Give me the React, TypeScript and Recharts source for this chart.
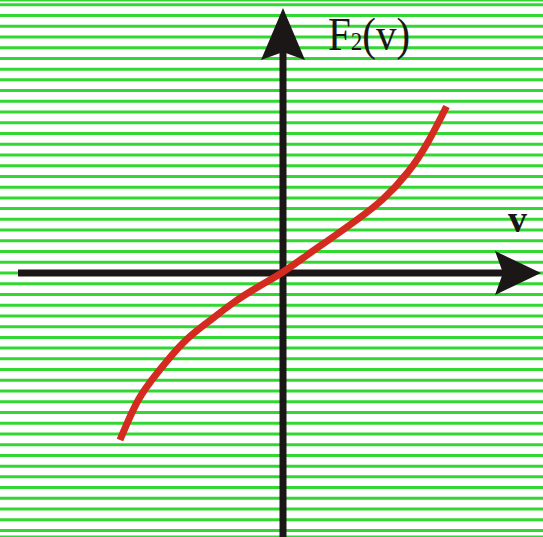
import {
  CartesianGrid,
  Line,
  LineChart,
  ReferenceLine,
  XAxis,
  YAxis,
} from "recharts"

// F2(v) curve, in units of 50px from the origin
const vValues = [
  -3.26, -2.9, -2.5, -2.0, -1.5, -1.0, -0.5, 0, 0.5, 1.0, 1.5, 2.0, 2.5, 2.9,
  3.27,
]
const fValues = [
  -3.34, -2.55, -1.98, -1.4, -0.98, -0.6, -0.28, 0.02, 0.37, 0.72, 1.08, 1.48,
  2.02, 2.62, 3.33,
]

// ruled background rows, one every gridStep
const gridStep = 0.2146
const gridRows: number[] = []
for (let i = -24; i <= 25; i++) gridRows.push(i * gridStep)

const xDomain = [-5.66, 5.2]
const yDomain = [-5.28, 5.46]

const data = vValues.map((v, i) => ({ v, f: fValues[i] }))

const INK = "#1c1717"

type ArrowProps = {
  x1?: number
  y1?: number
  x2?: number
  y2?: number
  head: number
  half: number
}

function ArrowAxis({ x1 = 0, y1 = 0, x2 = 0, y2 = 0, head, half }: ArrowProps) {
  const len = Math.hypot(x2 - x1, y2 - y1) || 1
  const ux = (x2 - x1) / len
  const uy = (y2 - y1) / len
  const bx = x2 - ux * head
  const by = y2 - uy * head
  const nx = x2 - ux * (head - 8)
  const ny = y2 - uy * (head - 8)
  const pts = [
    [x2, y2],
    [bx - uy * half, by + ux * half],
    [nx, ny],
    [bx + uy * half, by - ux * half],
  ]
    .map(p => p.join(","))
    .join(" ")
  return (
    <g>
      <line x1={x1} y1={y1} x2={nx} y2={ny} stroke={INK} strokeWidth={7} />
      <polygon points={pts} fill={INK} />
    </g>
  )
}

export default function App() {
  return (
    <div style={{ position: "absolute", left: 0, top: 0, background: "#fff" }}>
      <LineChart
        width={543}
        height={537}
        data={data}
        margin={{ top: 0, right: 0, bottom: 0, left: 0 }}
      >
        <CartesianGrid
          vertical={false}
          stroke="#26d626"
          strokeWidth={3}
          strokeOpacity={0.95}
        />
        <XAxis
          dataKey="v"
          type="number"
          domain={xDomain}
          allowDataOverflow
          hide
        />
        <YAxis
          type="number"
          domain={yDomain}
          ticks={gridRows}
          interval={0}
          allowDataOverflow
          hide
        />

        <ReferenceLine
          ifOverflow="visible"
          segment={[
            { x: -5.3, y: 0 },
            { x: 5.16, y: 0 },
          ]}
          shape={(p: any) => <ArrowAxis {...p} head={46} half={22} />}
          label={{
            value: "v",
            content: () => (
              <text
                x={508}
                y={232}
                fontFamily="Liberation Serif"
                fontWeight="bold"
                fontSize={38}
                fill={INK}
              >
                v
              </text>
            ),
          }}
        />
        <ReferenceLine
          ifOverflow="visible"
          segment={[
            { x: 0, y: -5.4 },
            { x: 0, y: 5.3 },
          ]}
          shape={(p: any) => <ArrowAxis {...p} head={52} half={22} />}
          label={{
            value: "F2(v)",
            content: () => (
              <text
                transform="translate(328,50) scale(0.89,1)"
                fontFamily="Liberation Serif"
                fontSize={46}
                fill={INK}
              >
                F<tspan fontSize={26}>2</tspan>
                <tspan fontSize={46}>(v)</tspan>
              </text>
            ),
          }}
        />

        <Line
          type="natural"
          dataKey="f"
          stroke="#d42a1f"
          strokeWidth={7}
          strokeLinecap="butt"
          dot={false}
          activeDot={false}
          isAnimationActive={false}
        />
      </LineChart>
    </div>
  )
}
